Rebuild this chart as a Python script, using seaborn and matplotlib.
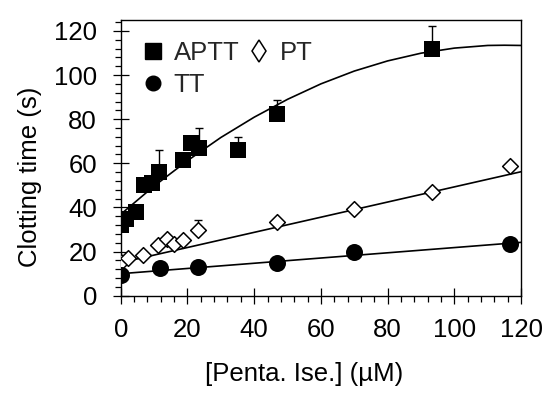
import matplotlib
matplotlib.use("Agg")
import matplotlib.pyplot as plt
import seaborn as sns
from matplotlib.lines import Line2D
from matplotlib.ticker import MultipleLocator

# данные
aptt_x = [0, 1.5, 4.6, 7.0, 9.3, 11.6, 18.6, 21.0, 23.5, 35.0, 46.7, 93.3]
aptt_y = [32, 35, 38, 50, 51, 56, 61.5, 69, 67, 66, 82.5, 112]
aptt_err = [0, 0, 0, 0, 0, 10, 0, 0, 9, 6, 6, 10]

pt_x = [0, 2.3, 6.8, 11.3, 13.8, 16.0, 18.6, 23.3, 46.7, 70, 93.3, 116.7]
pt_y = [15.3, 17.1, 18.6, 23.1, 25.7, 23.6, 25.1, 29.7, 33.3, 39.5, 46.8, 58.6]
pt_err = [0, 0, 0, 0, 0, 0, 0, 4.5, 0, 0, 0, 0]

tt_x = [0, 11.7, 23.3, 46.7, 70, 116.7]
tt_y = [9.5, 12.5, 13, 14.8, 19.8, 23.6]

# линии аппроксимации
aptt_fit_x = [0, 10, 20, 30, 40, 50, 60, 70, 80, 90, 100, 110, 115, 120]
aptt_fit_y = [36.9, 49.7, 61.2, 71.7, 80.9, 89.0, 96.0, 101.8, 106.4, 109.9, 112.2, 113.4, 113.5, 113.4]
pt_fit_x = [0, 120]
pt_fit_y = [15, 56.2]
tt_fit_x = [0, 120]
tt_fit_y = [10, 24.2]

FS = 18.5

sns.set_theme(style="ticks")
plt.rcParams['font.family'] = ['Liberation Sans', 'DejaVu Sans']

fig = plt.figure(figsize=(5.5, 3.97), dpi=100)
ax = fig.add_axes([0.2195, 0.255, 0.728, 0.695])

# линии
for fx, fy in [(aptt_fit_x, aptt_fit_y), (pt_fit_x, pt_fit_y), (tt_fit_x, tt_fit_y)]:
    sns.lineplot(x=fx, y=fy, ax=ax, color='black', linewidth=1.2, zorder=1)

# погрешности (только вверх)
ax.errorbar(aptt_x, aptt_y, yerr=[[0] * len(aptt_err), aptt_err], fmt='none',
            ecolor='black', elinewidth=1.0, capsize=3, capthick=1.0, zorder=2)
ax.errorbar(pt_x, pt_y, yerr=[[0] * len(pt_err), pt_err], fmt='none',
            ecolor='black', elinewidth=1.0, capsize=3, capthick=1.0, zorder=2)

# точки
sns.scatterplot(x=aptt_x, y=aptt_y, ax=ax, marker='s', s=117, color='black',
                edgecolor='black', linewidth=0, zorder=3)
sns.scatterplot(x=pt_x, y=pt_y, ax=ax, marker='D', s=64, facecolor='white',
                edgecolor='black', linewidth=1.1, zorder=3)
sns.scatterplot(x=tt_x, y=tt_y, ax=ax, marker='o', s=150, color='black',
                edgecolor='black', linewidth=0, zorder=3)

ax.set_xlim(0, 120)
ax.set_ylim(0, 125)
ax.xaxis.set_major_locator(MultipleLocator(20))
ax.xaxis.set_minor_locator(MultipleLocator(4))
ax.yaxis.set_major_locator(MultipleLocator(20))
ax.yaxis.set_minor_locator(MultipleLocator(4))

for s in ax.spines.values():
    s.set_visible(True)
    s.set_linewidth(1.0)
    s.set_color('black')

ax.tick_params(which='major', direction='inout', length=12, width=0.9,
               color='black', labelsize=FS, labelcolor='black')
ax.tick_params(axis='x', which='major', pad=10)
ax.tick_params(axis='y', which='major', pad=11)
ax.tick_params(which='minor', direction='out', length=4.5, width=0.9, color='black')

ax.set_xlabel('[Penta. Ise.] (µM)', fontsize=FS, color='black')
ax.set_ylabel('Clotting time (s)', fontsize=FS, color='black')
ax.yaxis.set_label_coords(-0.197, 0.43)
ax.xaxis.set_label_coords(0.458, -0.24)

handles = [
    Line2D([], [], marker='s', color='black', linestyle='none', markersize=11),
    Line2D([], [], marker='o', color='black', linestyle='none', markersize=10.5),
    Line2D([], [], marker='d', markerfacecolor='white', markeredgecolor='black',
           markeredgewidth=1.1, linestyle='none', markersize=11.5),
]
ax.legend(handles, ['APTT', 'TT', 'PT'], ncol=2, frameon=False, loc='upper left',
          bbox_to_anchor=(0.03, 0.96), fontsize=FS, handlelength=0.8,
          handletextpad=0.4, columnspacing=0.35, labelspacing=0.3,
          borderaxespad=0.0)

fig.savefig('out.png', dpi=100)
